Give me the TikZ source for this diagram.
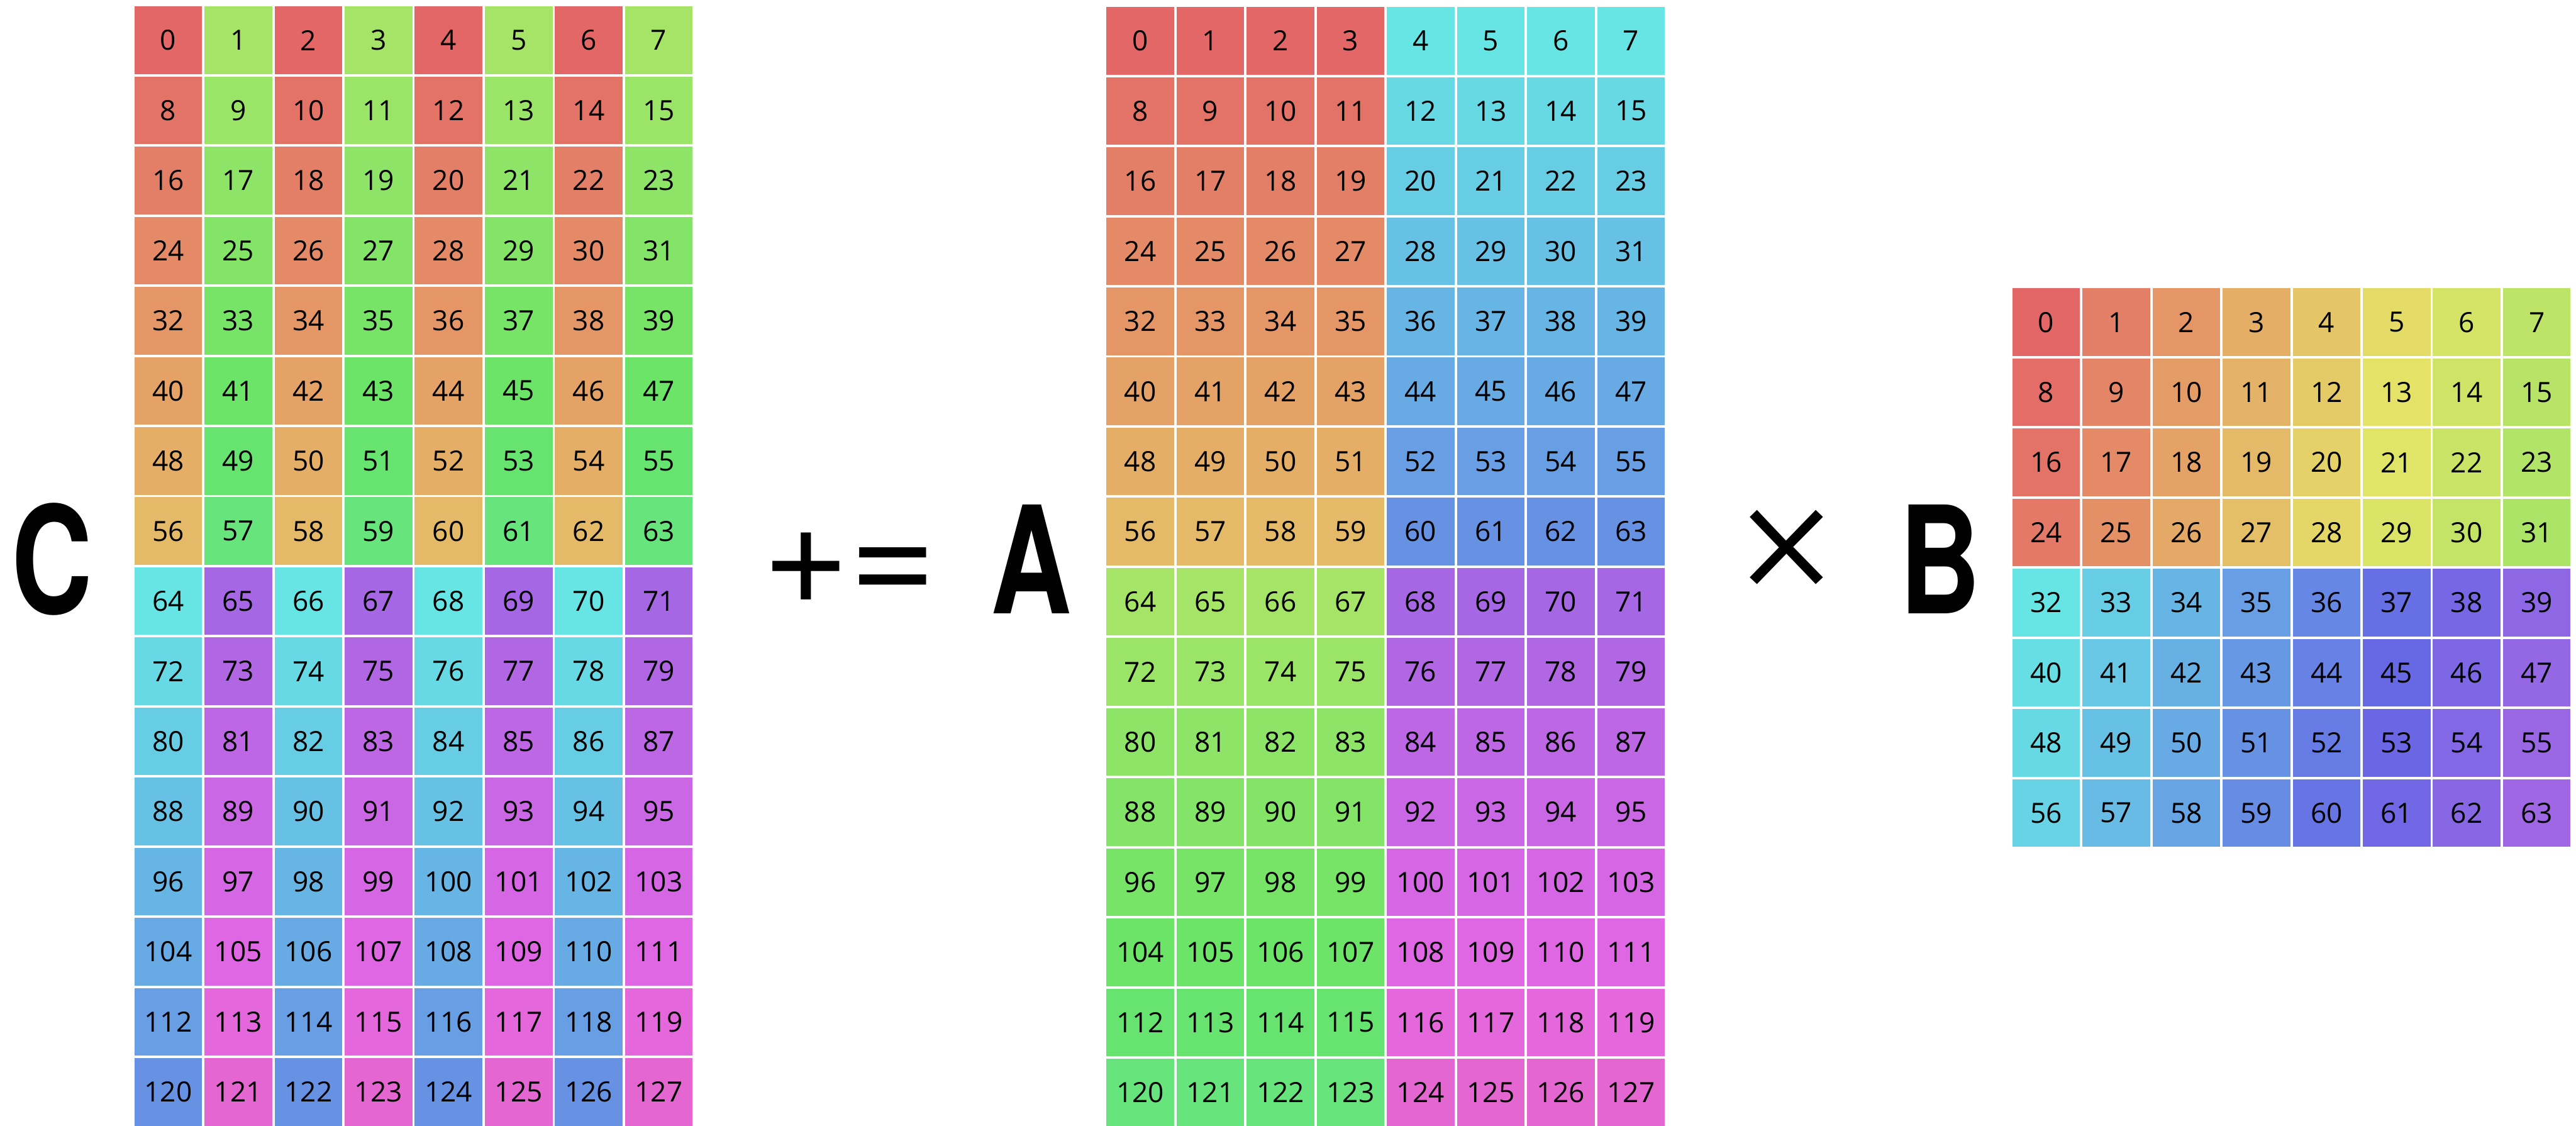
\documentclass[tikz,border=0pt]{standalone}
\usepackage{fontspec}
\usepackage{xcolor}
\usetikzlibrary{positioning}
\newfontfamily\cellfont{Open Sans}
\newfontfamily\letterfont{TeX Gyre Heros}
\newfontfamily\opfont{Fira Sans ExtraLight}

% cell colour from a hue (saturation 70%, lightness 65%)
\newcommand{\hslfill}[1]{%
  \pgfmathsetmacro\redpart{0.65-0.245*max(-1,min(mod(#1/30,12)-3,9-mod(#1/30,12),1))}%
  \pgfmathsetmacro\greenpart{0.65-0.245*max(-1,min(mod(8+#1/30,12)-3,9-mod(8+#1/30,12),1))}%
  \pgfmathsetmacro\bluepart{0.65-0.245*max(-1,min(mod(4+#1/30,12)-3,9-mod(4+#1/30,12),1))}%
  \definecolor{cellfill}{rgb}{\redpart,\greenpart,\bluepart}}

\begin{document}
\begin{tikzpicture}[
  x=1cm, y=-1cm,
  every node/.style={inner sep=0pt, outer sep=0pt},
  cell/.style={rectangle, minimum width=0.965cm, minimum height=0.965cm, anchor=north west, text=black, font=\cellfont\fontsize{11.3}{13}\selectfont},
  matlabel/.style={anchor=base, xscale=0.75, transform shape, font=\letterfont\bfseries\fontsize{60.6}{70}\selectfont},
  opsign/.style={anchor=center, font=\letterfont\fontsize{60.6}{70}\selectfont}
]

\useasboundingbox (0,0) rectangle (36.75,16.057);

% Matrix C, 16 x 8
\foreach \r in {0,...,15} {
  \foreach \c in {0,...,7} {
    \pgfmathtruncatemacro\n{8*\r+\c}
    \pgfmathsetmacro\hue{5.625*mod(\r,8)+90*mod(\c,2)+180*floor(\r/8)}
    \hslfill{\hue}
    \node[cell, fill=cellfill] (C-\r-\c) at (1.917+\c, 0.092+\r) {\n};
  }
}

% Matrix A, 16 x 8
\foreach \r in {0,...,15} {
  \foreach \c in {0,...,7} {
    \pgfmathtruncatemacro\n{8*\r+\c}
    \pgfmathsetmacro\hue{5.625*mod(\r,8)+90*floor(\r/8)+180*floor(\c/4)}
    \hslfill{\hue}
    \node[cell, fill=cellfill] (A-\r-\c) at (15.785+\c, 0.1+\r) {\n};
  }
}

% Matrix B, 8 x 8
\foreach \r in {0,...,7} {
  \foreach \c in {0,...,7} {
    \pgfmathtruncatemacro\n{8*\r+\c}
    \pgfmathsetmacro\hue{11.25*\c+2.8125*mod(\r,4)+180*floor(\r/4)}
    \hslfill{\hue}
    \node[cell, fill=cellfill] (B-\r-\c) at (28.708+\c, 4.113+\r) {\n};
  }
}

% Labels and operators
\node[matlabel] (labelC) at (0.747, 8.755) {C};
\node[opsign] (pluseq) at (12.118, 8.104) {+=};
\node[matlabel] (labelA) at (14.708, 8.755) {A};
\node[opsign, font=\opfont\fontsize{95}{105}\selectfont] (times) at (25.489, 8.058) {×};
\node[matlabel] (labelB) at (27.673, 8.755) {B};

\end{tikzpicture}
\end{document}
